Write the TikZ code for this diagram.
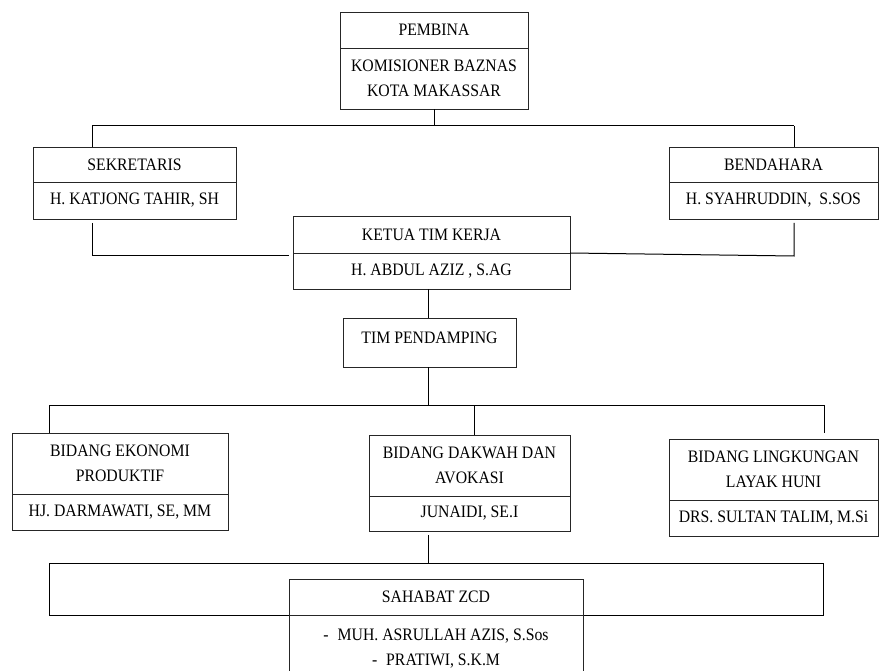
\documentclass[tikz,border=0pt]{standalone}
\usepackage{fontspec}
\setmainfont{Liberation Serif}[FakeStretch=0.9]
\begin{document}
\begin{tikzpicture}[x=1pt,y=-1pt,
  txt/.style={inner sep=0pt, align=center, font=\fontsize{17.5}{24.5}\selectfont},
  cell/.style={txt, draw=black!85, line width=0.9pt},
  link/.style={draw=black, line width=1pt}]
\useasboundingbox (0,0) rectangle (879,671);
% boxes
\node[cell, minimum width=188, minimum height=36] (pemA) at (434,30) {PEMBINA};
\node[cell, minimum width=188, minimum height=61] (pemB) at (434,78.5) {KOMISIONER BAZNAS\\KOTA MAKASSAR};
\node[cell, minimum width=203, minimum height=35] (sekA) at (134.5,164.5) {SEKRETARIS};
\node[cell, minimum width=203, minimum height=37] (sekB) at (134.5,200.5) {H. KATJONG TAHIR, SH};
\node[cell, minimum width=209, minimum height=35] (benA) at (773.5,164.5) {BENDAHARA};
\node[cell, minimum width=209, minimum height=37] (benB) at (773.5,200.5) {H. SYAHRUDDIN,\ \ S.SOS};
\node[cell, minimum width=277, minimum height=37] (ketA) at (431.5,234.5) {KETUA TIM KERJA};
\node[cell, minimum width=277, minimum height=36] (ketB) at (431.5,271) {H. ABDUL AZIZ , S.AG};
\node[cell, minimum width=173, minimum height=49] (tim) at (429.5,342.5) {\raisebox{10pt}{TIM PENDAMPING}};
\node[cell, minimum width=216, minimum height=61] (ekoA) at (120,463.5) {BIDANG EKONOMI\\PRODUKTIF};
\node[cell, minimum width=216, minimum height=36] (ekoB) at (120,512) {HJ. DARMAWATI, SE, MM};
\node[cell, minimum width=201, minimum height=61] (dakA) at (469.5,465.5) {BIDANG DAKWAH DAN\\AVOKASI};
\node[cell, minimum width=201, minimum height=35] (dakB) at (469.5,513.5) {JUNAIDI, SE.I};
\node[cell, minimum width=209, minimum height=61] (linA) at (773.5,469.5) {BIDANG LINGKUNGAN\\LAYAK HUNI};
\node[cell, minimum width=209, minimum height=36] (linB) at (773.5,518) {DRS. SULTAN TALIM, M.Si};
\node[draw=black, line width=1pt, minimum width=774, minimum height=52, inner sep=0pt] (frame) at (436,589) {};
\node[cell, minimum width=294, minimum height=36] (sahA) at (436,597) {SAHABAT ZCD};
\node[cell, minimum width=294, minimum height=70, anchor=north] (sahB) at (436,615) {};
\node[txt, anchor=north] (sahT) at (436,629) {-\hspace{9pt}MUH. ASRULLAH AZIS, S.Sos\\-\hspace{9pt}PRATIWI, S.K.M};
% junctions
\coordinate (j1l) at (92,126);
\coordinate (j1r) at (794,126);
\coordinate (s1) at (92,223);
\coordinate (s2) at (92,256);
\coordinate (s3) at (289,256);
\coordinate (b1) at (794,223);
\coordinate (b2) at (794,256);
\coordinate (k1) at (570,253);
\coordinate (h2l) at (49,405);
\coordinate (h2r) at (825,405);
% connectors
\draw[link] (pemB.south) -- (pemB.south |- j1l);
\draw[link] (j1l) -- (j1r);
\draw[link] (j1l) -- (j1l |- sekA.north);
\draw[link] (j1r) -- (j1r |- benA.north);
\draw[link] (s1) -- (s2) -- (s3);
\draw[link] (b1) -- (b2) -- (k1);
\draw[link] (ketB.south -| 428,0) -- (tim.north -| 428,0);
\draw[link] (tim.south -| 428,0) -- (428,405);
\draw[link] (h2l) -- (h2r);
\draw[link] (h2l) -- (h2l |- ekoA.north);
\draw[link] (474,405) -- (474,435);
\draw[link] (824,405) -- (824,433);
\draw[link] (428,535) -- (frame.north -| 428,0);
\end{tikzpicture}
\end{document}
